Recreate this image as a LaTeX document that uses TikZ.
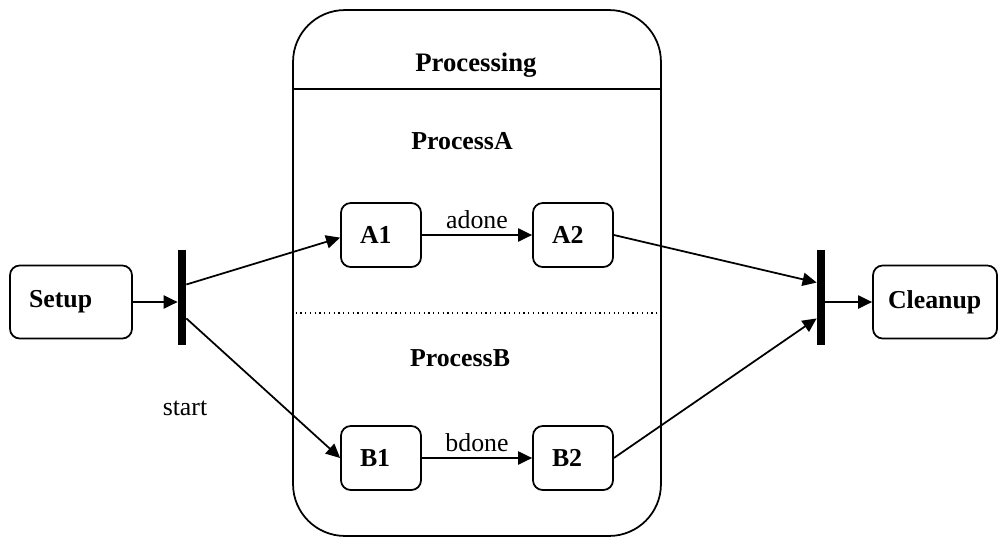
\documentclass[tikz,border=0pt]{standalone}
\usepackage{fontspec}
\setmainfont{Liberation Serif}
\usetikzlibrary{arrows.meta}
\usetikzlibrary{positioning}

\begin{document}
\begin{tikzpicture}[x=0.02cm, y=-0.02cm,
	every node/.style={font=\fontsize{14.7pt}{17pt}\selectfont},
	statebox/.style={draw, line width=1pt, rounded corners=5.5pt, align=left, inner xsep=0.38cm, font=\fontsize{14.7pt}{17pt}\selectfont\bfseries},
	bigstate/.style={statebox, text width=1.68cm, minimum height=1.46cm},
	substate/.style={statebox, text width=0.84cm, minimum height=1.28cm},
	forkbar/.style={fill=black, inner sep=0pt, minimum width=0.16cm, minimum height=1.9cm},
	trans/.style={line width=1pt, -{Triangle[length=8pt,width=7.5pt]}}]
	\useasboundingbox (0,0) rectangle (1002,538);
	% composite state
	\node[draw, line width=1pt, rounded corners=29.5pt, inner sep=0pt, minimum width=7.36cm, minimum height=10.52cm] (proc) at (477,273){};
	\node[font=\fontsize{15.2pt}{17pt}\selectfont\bfseries] (proctitle) at (476,65){Processing};
	\draw[line width=1pt] (proc.west |- 0,89) -- (proc.east |- 0,89);
	\draw[dotted, line width=0.7pt] ([xshift=2pt]proc.west |- 0,313) -- ([xshift=-2pt]proc.east |- 0,313);
	\node[font=\fontsize{14.7pt}{17pt}\selectfont\bfseries] (rega) at (462,141){ProcessA};
	\node[font=\fontsize{14.7pt}{17pt}\selectfont\bfseries] (regb) at (460,358){ProcessB};
	% states
	\node[bigstate] (setup) at (71,302){Setup};
	\node[bigstate, inner xsep=0.3cm, text width=1.88cm] (cleanup) at (935,302){Cleanup};
	\node[substate] (a1) at (381,235){A1};
	\node[substate] (a2) at (573,235){A2};
	\node[substate] (b1) at (381,458){B1};
	\node[substate] (b2) at (573,458){B2};
	% fork and join
	\node[forkbar] (fork) at (182,297.5){};
	\node[forkbar] (join) at (821,297.5){};
	\node (startlbl) at (185,408){start};
	% transitions
	\draw[trans] (setup.east) -- (setup.east -| fork.west);
	\draw[trans] ([yshift=7.4pt]fork.east) -- ([yshift=-1.5pt]a1.west);
	\draw[trans] ([yshift=-11.9pt]fork.east) -- (b1.west);
	\draw[trans] (a1) -- node[above]{adone} (a2);
	\draw[trans] (b1) -- node[above]{bdone} (b2);
	\draw[trans] (a2.east) -- ([yshift=8.5pt]join.west);
	\draw[trans] (b2.east) -- ([yshift=-11.9pt]join.west);
	\draw[trans] (cleanup.west -| join.east) -- (cleanup.west);
\end{tikzpicture}
\end{document}
